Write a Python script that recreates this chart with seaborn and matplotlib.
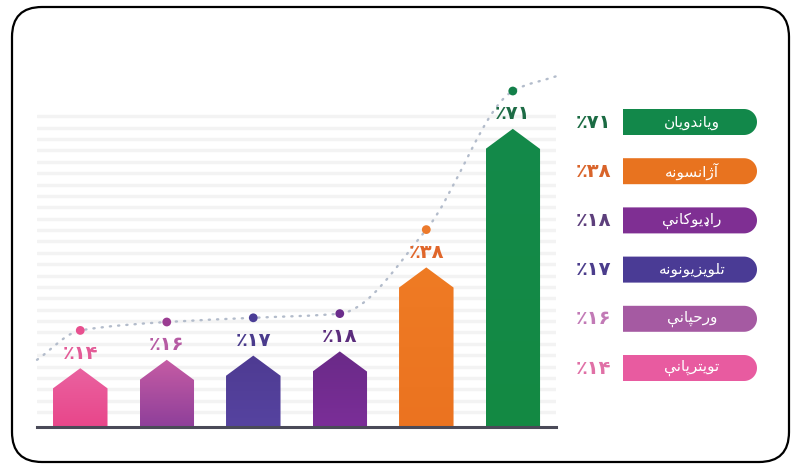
import numpy as np
import pandas as pd
import matplotlib.pyplot as plt
import matplotlib.patches as mpatches
from matplotlib.path import Path
from matplotlib.colors import LinearSegmentedColormap
import seaborn as sns

sns.set_theme(style="white")
plt.rcParams['font.family'] = ['DejaVu Sans']

# -----------------------------
# Data
# -----------------------------
categories = ["ټویټرپاڼې", "ورځپاڼې", "تلویزیونونه", "راډیوګانې", "آژانسونه", "ویاندویان"]
values = [14, 16, 17, 18, 38, 71]
value_labels = ["٪۱۴", "٪۱۶", "٪۱۷", "٪۱۸", "٪۳۸", "٪۷۱"]

bar_top = ["#ea62a0", "#c65ca4", "#4e3b92", "#6a2a88", "#ef7b24", "#14894a"]
bar_bottom = ["#e8468a", "#8e3f9a", "#5643a0", "#7b2e98", "#eb7320", "#138a43"]
text_colors = ["#e35b97", "#b65ba3", "#4a3b8c", "#5b2c7c", "#e0662a", "#1d6b45"]
dot_colors = ["#e8508f", "#9b3d92", "#4a3d96", "#6b2d8c", "#ec7a2c", "#13804a"]
pill_colors = ["#e85ba0", "#a55aa2", "#4a3b95", "#7f2f93", "#e8731f", "#12884a"]
legend_pct_colors = ["#e070a6", "#c27ab6", "#4b3d8c", "#5d3f7c", "#d9642a", "#1b6b43"]

# -----------------------------
# Minimal Arabic-script shaping (matplotlib draws no joins by itself)
# -----------------------------
FORMS = {  # isolated, final, initial, medial
    'ا': ('\uFE8D', '\uFE8E', None, None),
    'آ': ('\uFE81', '\uFE82', None, None),
    'د': ('\uFEA9', '\uFEAA', None, None),
    'ډ': ('\u0689', '\uFEAA', None, None),
    'ر': ('\uFEAD', '\uFEAE', None, None),
    'ز': ('\uFEAF', '\uFEB0', None, None),
    'ژ': ('\uFB8A', '\uFB8B', None, None),
    'و': ('\uFEED', '\uFEEE', None, None),
    'پ': ('\uFB56', '\uFB57', '\uFB58', '\uFB59'),
    'ت': ('\uFE95', '\uFE96', '\uFE97', '\uFE98'),
    'ټ': ('\u067C', '\uFE96', '\uFE97', '\uFE98'),
    'ځ': ('\u0681', '\uFEA2', '\uFEA3', '\uFEA4'),
    'س': ('\uFEB1', '\uFEB2', '\uFEB3', '\uFEB4'),
    'ل': ('\uFEDD', '\uFEDE', '\uFEDF', '\uFEE0'),
    'ن': ('\uFEE5', '\uFEE6', '\uFEE7', '\uFEE8'),
    'ڼ': ('\u06BC', '\uFEE6', '\uFEE7', '\uFEE8'),
    'ه': ('\uFEE9', '\uFEEA', '\uFEEB', '\uFEEC'),
    'ی': ('\uFBFC', '\uFBFD', '\uFBFE', '\uFBFF'),
    'ې': ('\uFBE4', '\uFBE5', '\uFBE6', '\uFBE7'),
    'ګ': ('\u06AB', '\uFB8F', '\uFB90', '\uFB91'),
}


def shape(word):
    out = []
    n = len(word)
    for i, c in enumerate(word):
        iso, fin, ini, med = FORMS[c]
        prev_joins = i > 0 and FORMS[word[i - 1]][2] is not None
        next_joins = i < n - 1 and ini is not None
        if prev_joins and next_joins:
            out.append(med)
        elif prev_joins:
            out.append(fin)
        elif next_joins:
            out.append(ini)
        else:
            out.append(iso)
    return ''.join(reversed(out))


def pill(x0, yc, w, h):
    # square on the left, half circle on the right
    r = h / 2
    ang = np.linspace(-np.pi / 2, np.pi / 2, 40)
    arc = np.column_stack([x0 + w - r + r * np.cos(ang), yc + r * np.sin(ang)])
    pts = np.vstack([[x0, yc - r], arc, [x0, yc + r]])
    return pts


# -----------------------------
# Figure
# -----------------------------
fig = plt.figure(figsize=(8.01, 4.68), dpi=100)
fig.patch.set_facecolor("white")

# overlay in pixel coords for the frame and the legend pills
over = fig.add_axes([0, 0, 1, 1], zorder=0)
over.set_xlim(0, 801)
over.set_ylim(468, 0)
over.axis("off")
frame = mpatches.FancyBboxPatch((12, 7), 777, 455, boxstyle="round,pad=0,rounding_size=30",
                                fc="none", ec="black", lw=1.6)
over.add_patch(frame)

ax = fig.add_axes([0.0462, 0.0876, 0.648, 0.7628], zorder=1)
ax.patch.set_alpha(0)

df = pd.DataFrame({"category": categories, "value": values})
sns.barplot(data=df, x="category", y="value", hue="category", palette=bar_bottom,
            legend=False, width=0.63, saturation=1, ax=ax)

roof = 4.8
for i, bar in enumerate(ax.patches):
    x, w, h = bar.get_x(), bar.get_width(), bar.get_height()
    bar.set_visible(False)
    verts = [(x, 0), (x, h - roof), (x + w / 2, h), (x + w, h - roof), (x + w, 0)]
    poly = mpatches.Polygon(verts, closed=True, fc="none", ec="none", transform=ax.transData)
    ax.add_patch(poly)
    cmap = LinearSegmentedColormap.from_list("g%d" % i, [bar_bottom[i], bar_top[i]])
    im = ax.imshow(np.linspace(0, 1, 256).reshape(-1, 1), cmap=cmap, origin="lower",
                   extent=[x, x + w, 0, h], aspect="auto", zorder=2)
    im.set_clip_path(poly)
    ax.text(x + w / 2, h + 3.6, value_labels[i], ha="center", va="center",
            fontsize=14, fontweight="bold", color=text_colors[i], zorder=4)

# dotted trend curve through the dots (monotone cubic, as bezier pieces)
xs = np.arange(len(values))
dot_y = np.array(values) + 9
pts = np.vstack([[-0.5, 16], np.column_stack([xs, dot_y]), [5.5, 83.5]])
dx = np.diff(pts[:, 0])
d = np.diff(pts[:, 1]) / dx
m = np.empty(len(pts))
m[0], m[-1] = d[0], d[-1]
for k in range(1, len(pts) - 1):
    m[k] = 0 if d[k - 1] * d[k] <= 0 else 2 / (1 / d[k - 1] + 1 / d[k])
codes = [Path.MOVETO]
verts = [pts[0]]
for j in range(len(pts) - 1):
    h3 = dx[j] / 3
    verts += [pts[j] + [h3, m[j] * h3], pts[j + 1] - [h3, m[j + 1] * h3], pts[j + 1]]
    codes += [Path.CURVE4] * 3
curve = mpatches.PathPatch(Path(verts, codes), fc="none", ec="#b3bccb", lw=1.7,
                           linestyle=(0, (0.5, 3.0)), capstyle="round", zorder=3,
                           clip_on=False)
ax.add_patch(curve)
ax.scatter(xs, dot_y, s=40, c=dot_colors, zorder=5, clip_on=False, linewidths=0)

# striped background + baseline
ax.set_yticks(74 - 2.71 * np.arange(27))
ax.yaxis.grid(True, color="#f3f3f3", lw=2.4)
ax.xaxis.grid(False)
ax.set_axisbelow(True)
ax.set_xlim(-0.5, 5.5)
ax.set_ylim(0, 85)
ax.set_xticks([])
ax.set_yticklabels([])
ax.tick_params(length=0)
ax.set(xlabel="", ylabel="")
for side in ["top", "right", "left"]:
    ax.spines[side].set_visible(False)
ax.spines["bottom"].set_color("#4a4a58")
ax.spines["bottom"].set_linewidth(2.2)

# legend pills, largest value on top
order = np.argsort(values)[::-1]
for row, i in enumerate(order):
    yc = 122 + 49.2 * row
    over.add_patch(mpatches.Polygon(pill(623, yc, 134, 26), closed=True,
                                    fc=pill_colors[i], ec="none"))
    over.text(692, yc, shape(categories[i]), ha="center", va="center",
              fontsize=11, color="white")
    over.text(594, yc, value_labels[i], ha="center", va="center", fontsize=14,
              fontweight="bold", color=legend_pct_colors[i])

plt.savefig("out.png", dpi=100)
plt.close()
